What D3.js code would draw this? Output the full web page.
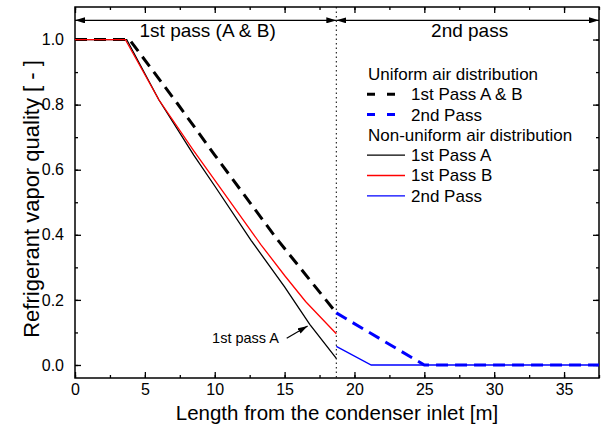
<!DOCTYPE html>
<html lang="en">
<head>
<meta charset="UTF-8">
<title>Refrigerant vapor quality</title>
<script src="https://d3js.org/d3.v7.min.js"></script>
<style>
    body { margin: 0; background: #fff; }
    svg text { font-family: "Liberation Sans", Arial, sans-serif; fill: #000; }
</style>
</head>
<body>
<svg id="chart" width="605" height="433"></svg>
<script>
    // curves: [length m, quality]
    const uniformPass1 = [[0, 1], [3.9, 1], [7.3, 0.805], [10, 0.645], [14.4, 0.39], [18.7, 0.16]];
    const uniformPass2 = [[18.7, 0.16], [25, 0], [37.5, 0]];
    const nonUniformA = [[0, 1], [3.7, 1], [6.0, 0.815], [8.5, 0.645], [10, 0.55], [12.6, 0.383], [15, 0.24], [16.8, 0.125], [18.7, 0.02]];
    const nonUniformB = [[0, 1], [3.6, 1], [6.0, 0.815], [8.5, 0.658], [10, 0.568], [13.3, 0.37], [15, 0.275], [16.5, 0.195], [18.7, 0.096]];
    const nonUniformPass2 = [[18.7, 0.057], [21.2, 0], [37.5, 0]];

    const passSplit = 18.7;
    const xTicks = [0, 5, 10, 15, 20, 25, 30, 35];
    const xMinor = d3.range(0, 37.6, 2.5);
    const yTicks = [0, 0.2, 0.4, 0.6, 0.8, 1.0];
    const yMinor = d3.range(0, 1.05, 0.1);

    const legendItems = [
        { label: "Uniform air distribution", header: true },
        { label: "1st Pass A & B", color: "#000", dash: true },
        { label: "2nd Pass", color: "#0000ff", dash: true },
        { label: "Non-uniform air distribution", header: true },
        { label: "1st Pass A", color: "#000" },
        { label: "1st Pass B", color: "#ff0000" },
        { label: "2nd Pass", color: "#0000ff" }
    ];

    const svg = d3.select("#chart");
    const margin = { top: 7, right: 6, bottom: 55, left: 75 };
    const W = 605, H = 433;

    const x = d3.scaleLinear().domain([0, 37.5]).range([margin.left, W - margin.right]);
    const y = d3.scaleLinear().domain([-0.04, 1.1]).range([H - margin.bottom, margin.top]);

    const defs = svg.append("defs");
    defs.append("marker")
        .attr("id", "arrow")
        .attr("viewBox", "0 0 10 6")
        .attr("refX", 10).attr("refY", 3)
        .attr("markerWidth", 10).attr("markerHeight", 6)
        .attr("markerUnits", "userSpaceOnUse")
        .attr("orient", "auto-start-reverse")
        .append("path").attr("d", "M0,0 L10,3 L0,6 Z").attr("fill", "#000");

    // ticks (all pointing inward)
    const plotBottom = H - margin.bottom, plotTop = margin.top;
    svg.append("g").attr("transform", `translate(0,${plotBottom})`)
        .call(d3.axisBottom(x).tickValues(xMinor).tickSize(-3).tickFormat(""));
    svg.append("g").attr("transform", `translate(0,${plotBottom})`)
        .call(d3.axisBottom(x).tickValues(xTicks).tickSize(-6).tickPadding(6).tickFormat(d3.format("d")));
    svg.append("g").attr("transform", `translate(0,${plotTop})`)
        .call(d3.axisTop(x).tickValues(xMinor).tickSize(-3).tickFormat(""));
    svg.append("g").attr("transform", `translate(0,${plotTop})`)
        .call(d3.axisTop(x).tickValues(xTicks).tickSize(-6).tickFormat(""));
    svg.append("g").attr("transform", `translate(${margin.left},0)`)
        .call(d3.axisLeft(y).tickValues(yMinor).tickSize(-3).tickFormat(""));
    svg.append("g").attr("transform", `translate(${margin.left},0)`)
        .call(d3.axisLeft(y).tickValues(yTicks).tickSize(-6).tickPadding(11).tickFormat(d3.format(".1f")));
    svg.append("g").attr("transform", `translate(${W - margin.right},0)`)
        .call(d3.axisRight(y).tickValues(yMinor).tickSize(-3).tickFormat(""));
    svg.append("g").attr("transform", `translate(${W - margin.right},0)`)
        .call(d3.axisRight(y).tickValues(yTicks).tickSize(-6).tickFormat(""));

    svg.selectAll(".domain").remove();
    svg.selectAll(".tick line").attr("stroke", "#000").attr("stroke-width", 1.3);
    svg.selectAll(".tick text").attr("font-size", 16).attr("fill", "#000")
        .attr("font-family", "'Liberation Sans', Arial, sans-serif");

    // frame
    svg.append("rect")
        .attr("x", margin.left).attr("y", plotTop)
        .attr("width", W - margin.right - margin.left).attr("height", plotBottom - plotTop)
        .attr("fill", "none").attr("stroke", "#000").attr("stroke-width", 1.5);

    // pass divider
    svg.append("line")
        .attr("x1", x(passSplit)).attr("x2", x(passSplit))
        .attr("y1", plotTop).attr("y2", plotBottom)
        .attr("stroke", "#000").attr("stroke-width", 1).attr("stroke-dasharray", "1.5,3");

    // pass arrows
    const arrowY = y(1.059);
    [[0, passSplit, "1st pass (A & B)"], [passSplit, 37.5, "2nd pass"]].forEach(([a, b, label]) => {
        svg.append("line")
            .attr("x1", x(a)).attr("x2", x(b))
            .attr("y1", arrowY).attr("y2", arrowY)
            .attr("stroke", "#000").attr("stroke-width", 1.2)
            .attr("marker-start", "url(#arrow)").attr("marker-end", "url(#arrow)");
        svg.append("text")
            .attr("x", (x(a) + x(b)) / 2 + 2).attr("y", arrowY + 17)
            .attr("text-anchor", "middle").attr("font-size", 19)
            .text(label);
    });

    const line = d3.line().x(d => x(d[0])).y(d => y(d[1]));

    const series = [
        { data: uniformPass1, color: "#000", dash: true },
        { data: uniformPass2, color: "#0000ff", dash: true },
        { data: nonUniformPass2, color: "#0000ff" },
        { data: nonUniformA, color: "#000" },
        { data: nonUniformB, color: "#ff0000" }
    ];
    series.forEach(s => {
        svg.append("path")
            .datum(s.data)
            .attr("d", line)
            .attr("fill", "none")
            .attr("stroke", s.color)
            .attr("stroke-width", s.dash ? 3 : 1.3)
            .attr("stroke-dasharray", s.dash ? "12,7" : null);
    });

    // annotation
    svg.append("text")
        .attr("x", x(14.6)).attr("y", y(0.082)).attr("dy", "0.35em")
        .attr("text-anchor", "end").attr("font-size", 14.5)
        .text("1st pass A");
    svg.append("line")
        .attr("x1", x(15.15)).attr("y1", y(0.082))
        .attr("x2", x(16.65)).attr("y2", y(0.12))
        .attr("stroke", "#000").attr("stroke-width", 1.2)
        .attr("marker-end", "url(#arrow)");

    // legend
    const lg = svg.append("g").attr("transform", "translate(367,74)");
    legendItems.forEach((d, i) => {
        const g = lg.append("g").attr("transform", `translate(0,${i * 20.3})`);
        if (d.header) {
            g.append("text").attr("x", 1).attr("dy", "0.35em").attr("font-size", 17).text(d.label);
        } else {
            g.append("line")
                .attr("x1", 0).attr("x2", 38)
                .attr("stroke", d.color)
                .attr("stroke-width", d.dash ? 3 : 1.3)
                .attr("stroke-dasharray", d.dash ? "8,12" : null);
            g.append("text").attr("x", 44).attr("dy", "0.35em").attr("font-size", 17).text(d.label);
        }
    });

    // axis titles
    svg.append("text")
        .attr("x", (margin.left + W - margin.right) / 2).attr("y", 420)
        .attr("text-anchor", "middle").attr("font-size", 20.5)
        .text("Length from the condenser inlet [m]");
    svg.append("text")
        .attr("transform", `translate(39,199) rotate(-90)`)
        .attr("text-anchor", "middle").attr("font-size", 22)
        .text("Refrigerant vapor quality [ - ]");
</script>
</body>
</html>
